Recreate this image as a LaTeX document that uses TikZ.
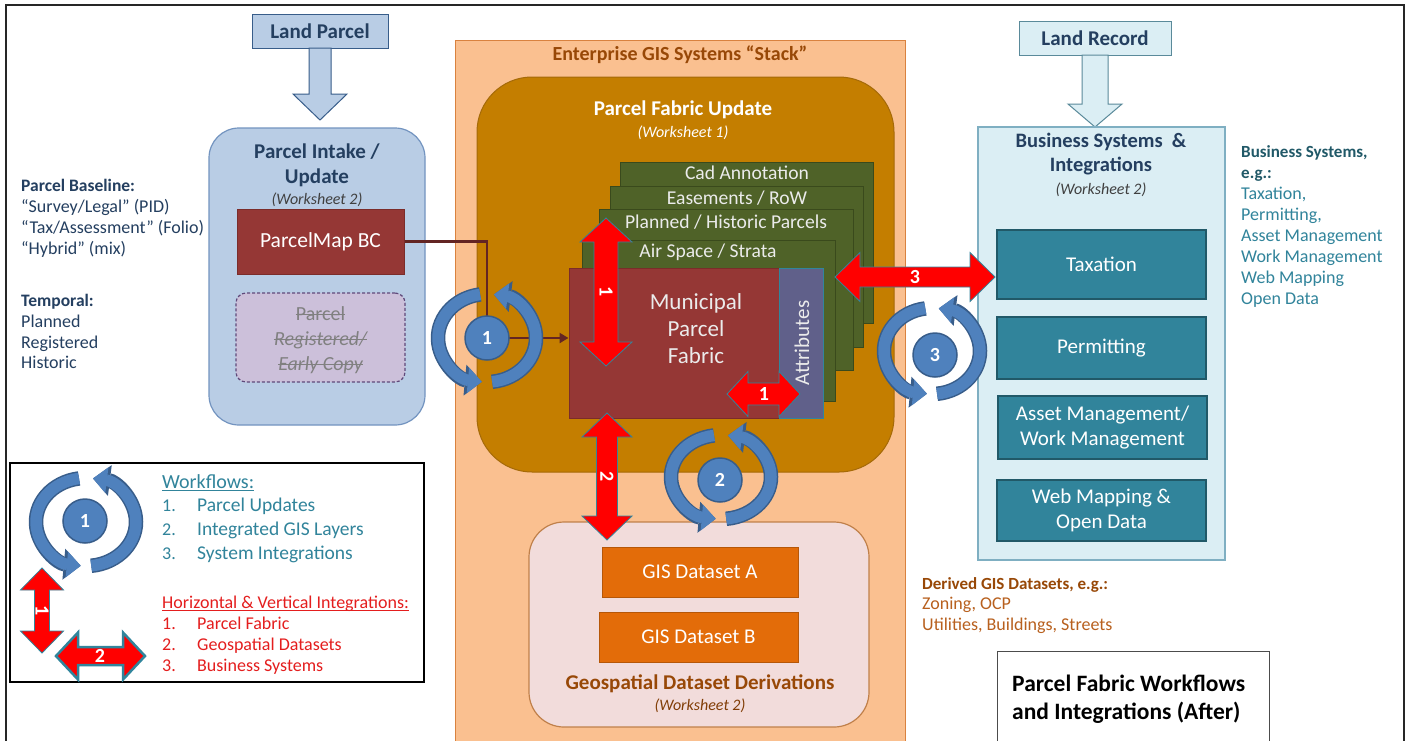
\documentclass[tikz,border=0pt]{standalone}
\usepackage{fontspec}
\setmainfont{Carlito}
\usetikzlibrary{arrows.meta}

\definecolor{navytxt}{HTML}{243F60}
\definecolor{lpblue}{HTML}{B9CDE5}
\definecolor{lpdark}{HTML}{385D8A}
\definecolor{pibdraw}{HTML}{7394C0}
\definecolor{pmred}{HTML}{953735}
\definecolor{pmredd}{HTML}{7B2C2A}
\definecolor{lilac}{HTML}{CCC0DA}
\definecolor{lilacd}{HTML}{5F497A}
\definecolor{stackor}{HTML}{FAC090}
\definecolor{stackd}{HTML}{D9823F}
\definecolor{brownt}{HTML}{984807}
\definecolor{gold}{HTML}{C47E00}
\definecolor{goldd}{HTML}{A56A08}
\definecolor{olive}{HTML}{4F6228}
\definecolor{olived}{HTML}{3A4A1C}
\definecolor{attrc}{HTML}{60608A}
\definecolor{arrb}{HTML}{31859C}
\definecolor{cycf}{HTML}{4F81BD}
\definecolor{cycd}{HTML}{385D8A}
\definecolor{brline}{HTML}{632523}
\definecolor{cyanl}{HTML}{DBEEF4}
\definecolor{cyand}{HTML}{7FAFC2}
\definecolor{lrdraw}{HTML}{5A8A9A}
\definecolor{tealbox}{HTML}{31849B}
\definecolor{tealdk}{HTML}{215968}
\definecolor{rosel}{HTML}{F2DCDB}
\definecolor{rosed}{HTML}{C0804A}
\definecolor{gisor}{HTML}{E36C09}
\definecolor{gisord}{HTML}{B65708}
\definecolor{derivl}{HTML}{B8601E}
\definecolor{legred}{HTML}{E41E1E}
\definecolor{greytxt}{HTML}{404040}

\newcommand{\fsz}[2]{\fontsize{#1}{#2}\selectfont}

% one pass of the two curved arrows of a workflow cycle
\newcommand{\cyclearcs}[8]{%
  \draw[line width=#5, #8, -{Triangle[width=#6,length=#7]}]
    (#1,#2) ++(-98:#3 and #4) arc[start angle=-98,end angle=-264,x radius=#3,y radius=#4];
  \draw[line width=#5, #8, -{Triangle[width=#6,length=#7]}]
    (#1,#2) ++(84:#3 and #4) arc[start angle=84,end angle=-82,x radius=#3,y radius=#4];
}
% workflow cycle: dark outline pass, then lighter fill pass
\newcommand{\wfcycle}[4]{%
  \cyclearcs{#1}{#2}{#3}{#4}{14.5pt}{30pt}{17pt}{cycd}%
  \cyclearcs{#1}{#2}{#3}{#4}{11.5pt}{25pt}{14pt}{cycf}%
}
% horizontal double block arrow: x1, x2, y, shaft half, head half, head length
\newcommand{\hdarrow}[7][]{%
  \filldraw[redarr,#1] (#2,#4) -- (#2+#7,#4-#6) -- (#2+#7,#4-#5) -- (#3-#7,#4-#5)
    -- (#3-#7,#4-#6) -- (#3,#4) -- (#3-#7,#4+#6) -- (#3-#7,#4+#5)
    -- (#2+#7,#4+#5) -- (#2+#7,#4+#6) -- cycle;
}
% vertical double block arrow: x, y top, y bottom, shaft half, head half, head length
\newcommand{\vdarrow}[7][]{%
  \filldraw[redarr,#1] (#2,#3) -- (#2+#6,#3+#7) -- (#2+#5,#3+#7) -- (#2+#5,#4-#7)
    -- (#2+#6,#4-#7) -- (#2,#4) -- (#2-#6,#4-#7) -- (#2-#5,#4-#7)
    -- (#2-#5,#3+#7) -- (#2-#6,#3+#7) -- cycle;
}
% rule through or under a text node
\newcommand{\strikenode}[2]{\draw[line width=1.1pt, #2] ([yshift=5.5pt]#1.base west) -- ([yshift=5.5pt]#1.base east);}
\newcommand{\undernode}[2]{\draw[line width=1pt, #2] ([yshift=-2.2pt]#1.base west) -- ([yshift=-2.2pt]#1.base east);}

\tikzset{
  lbl/.style={inner sep=0pt, align=center},
  box/.style={draw, inner sep=0pt, line width=1pt},
  layer/.style={box, fill=olive, draw=olived, minimum width=253pt, minimum height=161pt},
  layertxt/.style={lbl, text=white!92!black, font=\fsz{19.6}{23}},
  tealbx/.style={box, fill=tealbox, draw=tealdk, line width=1.2pt, minimum width=209pt,
    text=white, font=\fsz{21}{25}, align=center},
  gisbx/.style={box, fill=gisor, draw=gisord, minimum height=50pt, text=white, font=\fsz{21}{25}},
  redarr/.style={fill=red, draw=arrb, line width=0.8pt, line join=miter},
  badge/.style={circle, fill=cycf, draw=cycd, line width=1.5pt, minimum size=44pt,
    inner sep=0pt, text=white, font=\fsz{20}{24}\bfseries},
  arrlbl/.style={lbl, text=white, font=\fsz{20}{24}\bfseries},
  brl/.style={brline, line width=2.5pt},
  side/.style={inner sep=0pt, anchor=base west, font=\fsz{18}{21}},
  legtxt/.style={inner sep=0pt, anchor=base west, font=\fsz{18}{22}},
  strk/.style={inner sep=0pt, anchor=base, text=black!50, font=\fsz{20}{25}},
}

\begin{document}
\begin{tikzpicture}[x=1pt,y=-1pt]
\useasboundingbox (0,0) rectangle (1410,740);
\fill[white] (0,0) rectangle (1410,740);
\clip (0,0) rectangle (1410,740);
\draw[line width=1.8pt, black!85] (6,5) rectangle (1404,800);

% ---------------- Land parcel intake (left) ----------------
\node[box, fill=lpblue, draw=lpdark, minimum width=136pt, minimum height=34pt,
  text=navytxt, font=\fsz{21}{25}\bfseries] (lp) at (320,31) {Land Parcel};
\filldraw[fill=lpblue, draw=lpdark, line width=1pt]
  (309,48) -- (331,48) -- (331,94) -- (347,94) -- (320,120) -- (293,94) -- (309,94) -- cycle;

\node[box, rounded corners=30pt, fill=lpblue, draw=pibdraw, line width=1.2pt,
  minimum width=216pt, minimum height=297pt] (pib) at (317,276.5) {};
\node[lbl, text=navytxt, font=\fsz{21}{25}\bfseries] (pibt) at (317,165.5) {Parcel Intake /\\Update};
\node[lbl, text=greytxt, font=\fsz{16}{19}\itshape] (pibw) at (317,200) {(Worksheet 2)};
\node[box, fill=pmred, draw=pmredd, minimum width=167pt, minimum height=65pt,
  text=white, font=\fsz{21.5}{25}] (pmbc) at (320.5,241.5) {ParcelMap BC};
\node[box, dash pattern=on 3pt off 2pt, rounded corners=10pt, fill=lilac, draw=lilacd,
  line width=1.2pt, minimum width=169pt, minimum height=89pt] (early) at (320.5,337.5) {};
\node[strk] (e1) at (320.5,320) {Parcel};
\node[strk, font=\fsz{20}{25}\itshape] (e2) at (320.5,345) {Registered/};
\node[strk, font=\fsz{20}{25}\itshape] (e3) at (320.5,370) {Early Copy};
\strikenode{e1}{black!50}
\strikenode{e2}{black!50}
\strikenode{e3}{black!50}

\node[side, text=navytxt, font=\fsz{17.5}{21}\bfseries] (pbl) at (21,191.5) {Parcel Baseline:};
\node[side, text=navytxt] (pb1) at (21,212.5) {“Survey/Legal” (PID)};
\node[side, text=navytxt] (pb2) at (21,233.5) {“Tax/Assessment” (Folio)};
\node[side, text=navytxt] (pb3) at (21,254.5) {“Hybrid” (mix)};
\node[side, text=navytxt, font=\fsz{17.5}{21}\bfseries] (tpl) at (21,306.5) {Temporal:};
\node[side, text=navytxt] (tp1) at (21,327.5) {Planned};
\node[side, text=navytxt] (tp2) at (21,348.5) {Registered};
\node[side, text=navytxt] (tp3) at (21,368.5) {Historic};

% ---------------- Enterprise GIS stack (centre) ----------------
\node[box, fill=stackor, draw=stackd, minimum width=450pt, minimum height=720pt,
  anchor=north west] (stack) at (455,40) {};
\node[lbl, text=brownt, font=\fsz{20}{24}\bfseries] (stackt) at (680,55) {Enterprise GIS Systems “Stack”};

\node[box, rounded corners=55pt, fill=gold, draw=goldd, minimum width=417pt,
  minimum height=395pt] (pfu) at (685.5,274.5) {};
\node[lbl, text=white, font=\fsz{21}{25}\bfseries] (pfut) at (683,110) {Parcel Fabric Update};
\node[lbl, text=white, font=\fsz{16}{19}\itshape] (pfuw) at (683,133) {(Worksheet 1)};

\node[layer] (cad) at (746.5,242.5) {};
\node[layertxt] (cadt) at (747,173) {Cad Annotation};
\node[layer] (ease) at (736.5,266.5) {};
\node[layertxt] (easet) at (737,198) {Easements / RoW};
\node[layer, minimum width=254pt] (plan) at (726,290) {};
\node[layertxt] (plant) at (726,222) {Planned / Historic Parcels};
\node[layer] (air) at (708.5,320.5) {};
\node[layertxt] (airt) at (708,252) {Air Space / Strata};

\node[box, fill=pmred, draw=pmredd, minimum width=210pt, minimum height=150pt] (mpf) at (674,343) {};
\node[lbl, text=white!92!black, font=\fsz{23}{27}] (mpft) at (696,329) {Municipal\\Parcel\\Fabric};
\node[box, fill=attrc, draw=arrb, line width=0.8pt, minimum width=44pt, minimum height=150pt] (attr) at (801,343) {};
\node[lbl, text=white!92!black, font=\fsz{21}{25}, rotate=90] (attrt) at (802,343) {Attributes};

\node[box, rounded corners=35pt, fill=rosel, draw=rosed, line width=1.2pt,
  minimum width=340pt, minimum height=205pt] (geo) at (699,624.5) {};
\node[gisbx, minimum width=196pt] (gisa) at (700,572) {GIS Dataset A};
\node[gisbx, minimum width=199pt] (gisb) at (698.5,637) {GIS Dataset B};
\node[lbl, text=brownt, font=\fsz{21}{25}\bfseries] (geot) at (700,684) {Geospatial Dataset Derivations};
\node[lbl, text=brownt!85!black, font=\fsz{16}{19}\itshape] (geow) at (700,706) {(Worksheet 2)};

% ---------------- Business systems (right) ----------------
\node[box, fill=cyanl, draw=lrdraw, minimum width=152pt, minimum height=34pt,
  text=navytxt, font=\fsz{21}{25}\bfseries] (lr) at (1095,38) {Land Record};
\filldraw[fill=cyanl, draw=lrdraw, line width=1pt]
  (1082,55) -- (1108,55) -- (1108,104) -- (1122,104) -- (1095,127) -- (1068,104) -- (1082,104) -- cycle;

\node[box, fill=cyanl, draw=cyand, line width=1.2pt, minimum width=247pt,
  minimum height=433pt] (biz) at (1101.5,343.5) {};
\node[lbl, text=navytxt, font=\fsz{20.5}{24.5}\bfseries] (bizt) at (1101,154) {Business Systems \ \&\\Integrations};
\node[lbl, text=greytxt, font=\fsz{16}{19}\itshape] (bizw) at (1101,190) {(Worksheet 2)};
\node[tealbx, minimum height=69pt] (tax) at (1101.5,264.5) {Taxation};
\node[tealbx, minimum height=62pt] (perm) at (1101.5,348) {Permitting};
\node[tealbx, minimum height=63pt] (asset) at (1102.5,427.5) {Asset Management/\\Work Management};
\node[tealbx, minimum height=61pt] (web) at (1101.5,510.5) {Web Mapping \&\\Open Data};

\node[side, text=tealdk, font=\fsz{17}{21}\bfseries] (bs0) at (1241,157.5) {Business Systems,};
\node[side, text=tealdk, font=\fsz{17}{21}\bfseries] (bs1) at (1241,178.5) {e.g.:};
\node[side, text=tealbox] (bs2) at (1241,199.5) {Taxation,};
\node[side, text=tealbox] (bs3) at (1241,220.5) {Permitting,};
\node[side, text=tealbox] (bs4) at (1241,241.5) {Asset Management};
\node[side, text=tealbox] (bs5) at (1241,262.5) {Work Management};
\node[side, text=tealbox] (bs6) at (1241,283.5) {Web Mapping};
\node[side, text=tealbox] (bs7) at (1241,304.5) {Open Data};

\node[side, text=brownt, font=\fsz{17}{21}\bfseries] (dg0) at (922,589.5) {Derived GIS Datasets, e.g.:};
\node[side, text=derivl] (dg1) at (922,609.5) {Zoning, OCP};
\node[side, text=derivl] (dg2) at (922,630.5) {Utilities, Buildings, Streets};

\node[draw=black!70, line width=1.3pt, fill=white, minimum width=272pt, minimum height=120pt,
  anchor=north west] (ttl) at (997,651) {};
\node[inner sep=0pt, anchor=base west, font=\fsz{23.5}{28}\bfseries] (ttl1) at (1012,691.5) {Parcel Fabric Workflows};
\node[inner sep=0pt, anchor=base west, font=\fsz{23.5}{28}\bfseries] (ttl2) at (1012,719.5) {and Integrations (After)};

% ---------------- Workflow 1 connector and cycles ----------------
\coordinate (c1) at (487,338);
\draw[brl] (pmbc.east) -| (c1);
\draw[brl, -{Triangle[width=10pt,length=9pt]}] (c1) -- (mpf.west |- c1);

\wfcycle{487}{338}{49}{44}
\node[badge] (b1) at (c1) {1};
\wfcycle{721}{477}{50}{42}
\node[badge] (b2) at (720,480) {2};
\wfcycle{932}{351}{48}{43}
\node[badge] (b3) at (935,355) {3};

% ---------------- Integration arrows ----------------
\vdarrow{606}{218}{366}{12}{26}{24}
\node[arrlbl, rotate=-90] (i1v) at (606,292) {1};
\hdarrow{727}{800}{394}{11}{22.5}{21}
\node[arrlbl] (i1h) at (764,394) {1};
\vdarrow{607}{413}{540}{10.5}{25}{24}
\node[arrlbl, rotate=-90] (i2v) at (607,477) {2};
\hdarrow{835}{995}{277}{10}{24.5}{25}
\node[arrlbl] (i3h) at (915,277) {3};

% ---------------- Legend ----------------
\node[draw=black, line width=1.8pt, fill=white, minimum width=414pt, minimum height=219pt] (legend) at (217,572.5) {};
\wfcycle{86}{522}{50}{44}
\node[badge] (lb1) at (85,521) {1};
\vdarrow{42}{568}{653}{7.5}{21.5}{22}
\node[arrlbl, rotate=-90] (lv1) at (42,611) {1};
\hdarrow[line width=2.5pt]{56}{145}{656}{9}{23.5}{22}
\node[arrlbl] (lh2) at (100,656) {2};

\node[legtxt, text=tealbox, font=\fsz{20}{22}] (wf) at (162,488) {Workflows:};
\undernode{wf}{tealbox}
\node[legtxt, text=tealbox] (wf1n) at (162,511) {1.};
\node[legtxt, text=tealbox, font=\fsz{19.5}{22}] (wf1) at (197,511) {Parcel Updates};
\node[legtxt, text=tealbox] (wf2n) at (162,535) {2.};
\node[legtxt, text=tealbox, font=\fsz{19.5}{22}] (wf2) at (197,535) {Integrated GIS Layers};
\node[legtxt, text=tealbox] (wf3n) at (162,559) {3.};
\node[legtxt, text=tealbox, font=\fsz{19.5}{22}] (wf3) at (197,559) {System Integrations};
\node[legtxt, text=legred] (hv) at (162,608) {Horizontal \& Vertical Integrations:};
\undernode{hv}{legred}
\node[legtxt, text=legred] (hv1n) at (162,629) {1.};
\node[legtxt, text=legred] (hv1) at (197,629) {Parcel Fabric};
\node[legtxt, text=legred] (hv2n) at (162,650) {2.};
\node[legtxt, text=legred] (hv2) at (197,650) {Geospatial Datasets};
\node[legtxt, text=legred] (hv3n) at (162,671) {3.};
\node[legtxt, text=legred] (hv3) at (197,671) {Business Systems};
\end{tikzpicture}
\end{document}
